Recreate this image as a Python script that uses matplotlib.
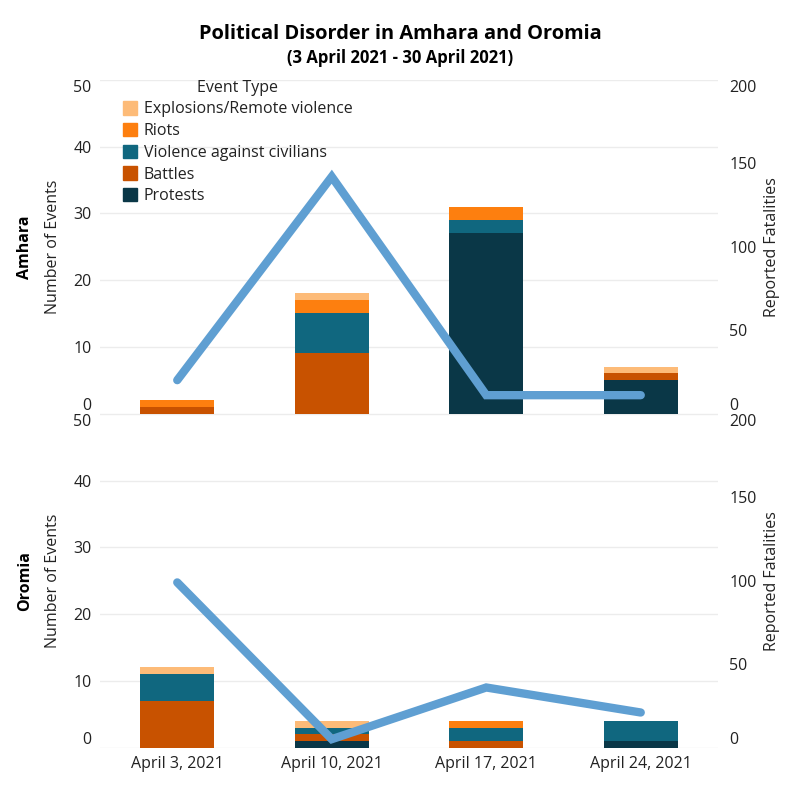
import matplotlib
matplotlib.use("Agg")
import matplotlib.pyplot as plt
import numpy as np
from matplotlib.patches import Patch

plt.rcParams["font.family"] = ["Open Sans", "DejaVu Sans"]

weeks = ["April 3, 2021", "April 10, 2021", "April 17, 2021", "April 24, 2021"]
event_types = ["Protests", "Battles", "Violence against civilians", "Riots", "Explosions/Remote violence"]
colors = {
    "Protests": "#0a3747",
    "Battles": "#c85200",
    "Violence against civilians": "#10677f",
    "Riots": "#fd7f0f",
    "Explosions/Remote violence": "#fdbb78",
}

amhara_protests = [0, 0, 27, 5]
amhara_battles = [1, 9, 0, 1]
amhara_vac = [0, 6, 2, 0]
amhara_riots = [1, 2, 2, 0]
amhara_explosions = [0, 1, 0, 1]
amhara_fatalities = [20, 142, 11, 11]

oromia_protests = [0, 1, 0, 1]
oromia_battles = [7, 1, 1, 0]
oromia_vac = [4, 1, 2, 3]
oromia_riots = [0, 0, 1, 0]
oromia_explosions = [1, 1, 0, 0]
oromia_fatalities = [99, 5, 36, 21]

LINE_C = "#5f9fd2"
GRID_C = "#ececec"
TXT = "#222222"
FS = 11.5


def panel(rect, region, series, fatalities, show_x):
    ax = fig.add_axes(rect)
    x = np.arange(len(weeks))
    bottom = np.zeros(len(weeks))
    for name, vals in zip(event_types, series):
        ax.bar(x, vals, bottom=bottom, width=0.48, color=colors[name], zorder=2)
        bottom += np.array(vals)
    ax.set_xlim(-0.5, 3.5)
    ax.set_ylim(0, 50)
    ax.set_yticks(range(0, 51, 10))
    ax.grid(axis="y", color=GRID_C, lw=1, zorder=0)
    for s in ax.spines.values():
        s.set_visible(False)
    ax.tick_params(length=0, labelsize=FS, colors=TXT, pad=6)
    ax.set_xticks(x)
    if show_x:
        ax.set_xticklabels(weeks)
    else:
        ax.set_xticklabels([])
    ticks = ax.yaxis.get_major_ticks()
    ticks[0].label1.set_va("bottom")
    ticks[-1].label1.set_va("top")

    ax2 = ax.twinx()
    ax2.plot(x, fatalities, color=LINE_C, lw=6, solid_capstyle="round",
             solid_joinstyle="miter", zorder=3)
    ax2.set_ylim(0, 200)
    ax2.set_yticks(range(0, 201, 50))
    for s in ax2.spines.values():
        s.set_visible(False)
    ax2.tick_params(length=0, labelsize=FS, colors=TXT, pad=8)
    ticks2 = ax2.yaxis.get_major_ticks()
    ticks2[0].label2.set_va("bottom")
    ticks2[-1].label2.set_va("top")

    yc = rect[1] + rect[3] / 2
    fig.text(0.031, yc, region, rotation=90, ha="center", va="center",
             fontsize=FS, fontweight="bold", color="black")
    fig.text(0.066, yc, "Number of Events", rotation=90, ha="center", va="center",
             fontsize=FS, color=TXT)
    fig.text(0.965, yc, "Reported Fatalities", rotation=90, ha="center", va="center",
             fontsize=FS, color=TXT)
    return ax


fig = plt.figure(figsize=(8, 8), dpi=100)

top = panel([0.125, 0.4831, 0.7725, 0.4169], "Amhara",
            [amhara_protests, amhara_battles, amhara_vac, amhara_riots, amhara_explosions],
            amhara_fatalities, False)
panel([0.125, 0.0656, 0.7725, 0.4169], "Oromia",
      [oromia_protests, oromia_battles, oromia_vac, oromia_riots, oromia_explosions],
      oromia_fatalities, True)

handles = [Patch(color=colors[n]) for n in reversed(event_types)]
leg = top.legend(handles, list(reversed(event_types)), title="Event Type",
                 loc="upper left", bbox_to_anchor=(0.027, 1.02), frameon=False,
                 fontsize=FS, title_fontsize=FS, handlelength=0.9, handleheight=0.9,
                 labelspacing=0.35, handletextpad=0.4, borderaxespad=0)
for t in leg.get_texts():
    t.set_color(TXT)
leg.get_title().set_color(TXT)
leg.set_zorder(10)

fig.text(0.5, 0.958, "Political Disorder in Amhara and Oromia", ha="center", va="center",
         fontsize=14.4, fontweight="bold", color="black")
fig.text(0.5, 0.928, "(3 April 2021 - 30 April 2021)", ha="center", va="center",
         fontsize=12, fontweight="bold", color="black")

fig.savefig("out.png", dpi=100, facecolor="white")
